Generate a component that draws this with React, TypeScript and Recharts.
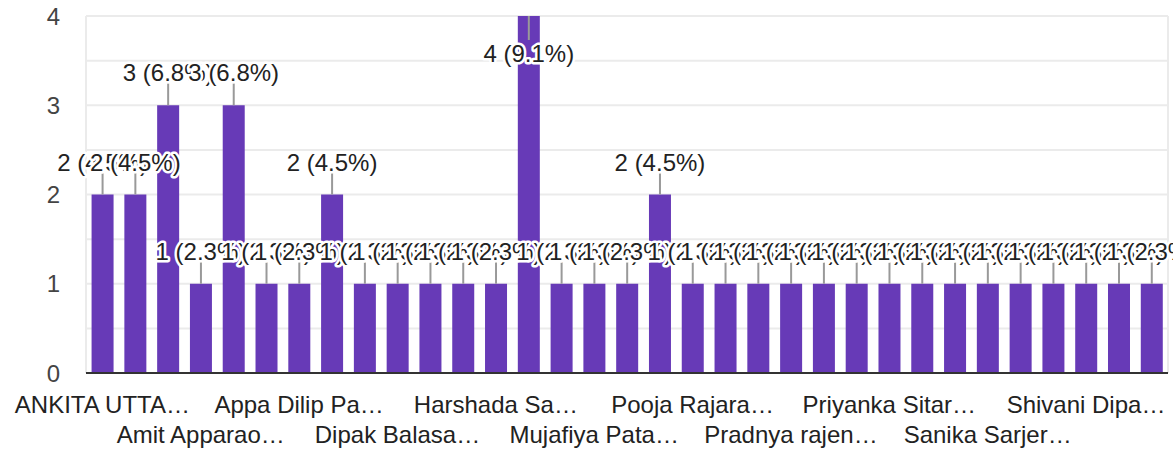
import React from "react";
import { BarChart, Bar, XAxis, YAxis, CartesianGrid, LabelList } from "recharts";

const categories = [
  "ANKITA UTTA…", "", "",
  "Amit Apparao…", "", "",
  "Appa Dilip Pa…", "", "",
  "Dipak Balasa…", "", "",
  "Harshada Sa…", "", "",
  "Mujafiya Pata…", "", "",
  "Pooja Rajara…", "", "",
  "Pradnya rajen…", "", "",
  "Priyanka Sitar…", "", "",
  "Sanika Sarjer…", "", "",
  "Shivani Dipa…", "", "",
];

const counts = [
  2, 2, 3, 1, 3, 1, 1, 2, 1, 1, 1, 1, 1, 4, 1, 1, 1, 2,
  1, 1, 1, 1, 1, 1, 1, 1, 1, 1, 1, 1, 1, 1, 1,
];

const yTicks = [0, 0.5, 1, 1.5, 2, 2.5, 3, 3.5, 4];
const yMax = 4;

const total = counts.reduce((a, b) => a + b, 0);
const data = categories.map((name, i) => ({ name, count: counts[i] }));

const FONT = "Arial, 'Liberation Sans', Helvetica, sans-serif";

function YTick(props: any) {
  const { x, y, payload } = props;
  if (!Number.isInteger(payload.value)) return <g />;
  return (
    <text x={x - 26} y={y} dy={8.5} textAnchor="end" fontSize={24} fill="#444" fontFamily={FONT}>
      {payload.value}
    </text>
  );
}

function XTick(props: any) {
  const { x, y, payload, index } = props;
  const row = payload && typeof payload.index === "number" ? Math.floor(payload.index / 3) % 2 : index % 2;
  return (
    <text x={x} y={y} dy={row ? 70 : 40} textAnchor="middle" fontSize={24} fill="#222" fontFamily={FONT}>
      {payload.value}
    </text>
  );
}

function BarLabel(props: any) {
  const vb = props.viewBox || {};
  const x = props.x ?? vb.x;
  const y = props.y ?? vb.y;
  const w = props.width ?? vb.width;
  const value = props.value;
  if (x == null || y == null || value == null) return null;
  const cx = x + w / 2;
  const pct = ((value / total) * 100).toFixed(1);
  const label = `${value} (${pct}%)`;
  const inside = value > yMax - 0.5;
  const lineEnd = inside ? y + 24 : y - 22;
  const baseline = inside ? y + 46 : y - 24;
  return (
    <g>
      <line x1={cx} x2={cx} y1={y} y2={lineEnd} stroke="#999" strokeWidth={2} />
      <text
        x={cx}
        y={baseline}
        textAnchor="middle"
        fontSize={24}
        fill="#222"
        fontFamily={FONT}
        stroke="#fff"
        strokeWidth={5}
        strokeLinejoin="round"
        paintOrder="stroke"
      >
        {label}
      </text>
    </g>
  );
}

export default function App() {
  return (
    <div style={{ position: "absolute", left: 0, top: 0, width: 1173, height: 452, background: "#fff" }}>
      <BarChart
        width={1173}
        height={452}
        data={data}
        margin={{ top: 16, right: 5, bottom: 0, left: 0 }}
        barCategoryGap="17%"
      >
        <CartesianGrid
          stroke="#ebebeb"
          strokeWidth={2}
          vertical={true}
          verticalCoordinatesGenerator={(p: any) => [p.offset.left, p.offset.left + p.offset.width]}
        />
        <XAxis
          dataKey="name"
          interval={2}
          height={79}
          tickSize={0}
          tickMargin={0}
          tickLine={false}
          axisLine={{ stroke: "#333", strokeWidth: 2 }}
          tick={<XTick />}
        />
        <YAxis
          width={86}
          domain={[0, yMax]}
          ticks={yTicks}
          interval={0}
          tickSize={0}
          tickMargin={0}
          tickLine={false}
          axisLine={false}
          tick={<YTick />}
        />
        <Bar dataKey="count" fill="#673ab7" isAnimationActive={false}>
          <LabelList dataKey="count" content={(p: any) => <BarLabel {...p} />} />
        </Bar>
      </BarChart>
    </div>
  );
}
